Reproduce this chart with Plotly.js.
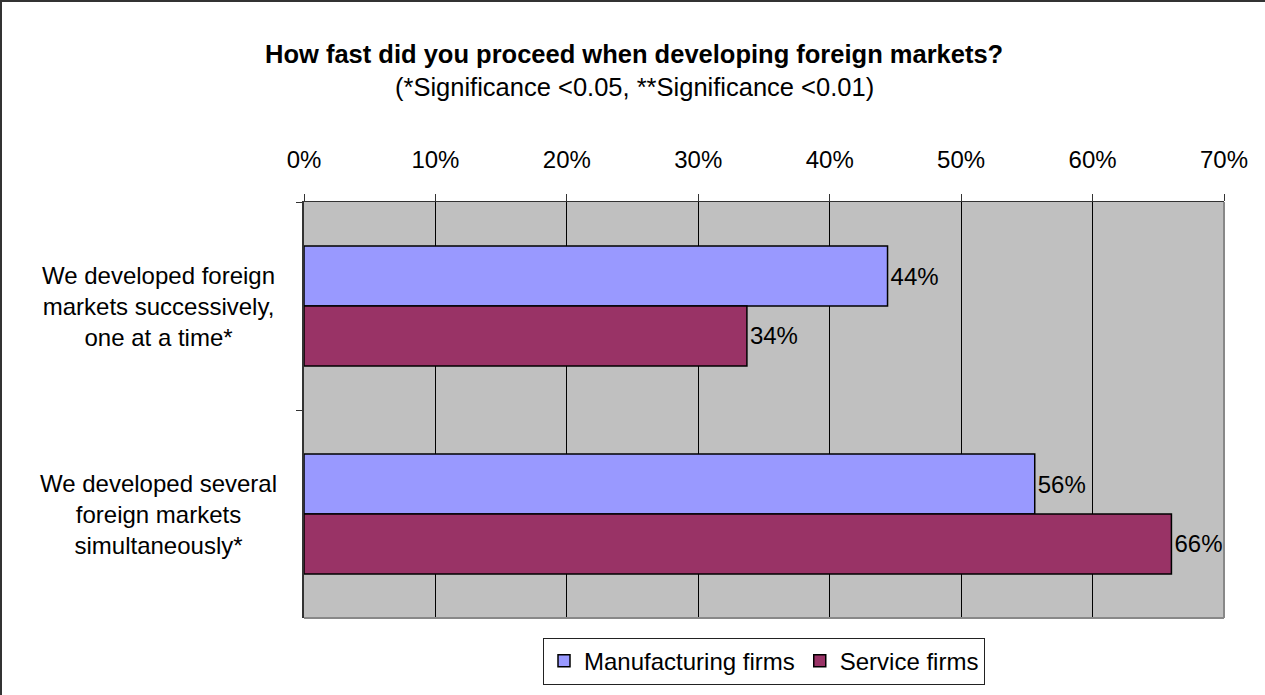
<!DOCTYPE html>
<html>
<head>
<meta charset="utf-8">
<script src="https://cdn.plot.ly/plotly-3.0.1.min.js"></script>
<style>
html,body{margin:0;padding:0;background:#fff;}
#chart{width:1265px;height:695px;box-sizing:border-box;border-top:2px solid #333;border-left:2px solid #333;}
</style>
</head>
<body>
<div id="chart"></div>
<script>
const categories = ["We developed foreign<br>markets successively,<br>one at a time*", "We developed several<br>foreign markets<br>simultaneously*"];
const seriesNames = ["Manufacturing firms", "Service firms"];
const manufacturing = [0.444, 0.556];
const service = [0.337, 0.66];
const xTickVals = [0, 0.1, 0.2, 0.3, 0.4, 0.5, 0.6, 0.7];
const titleLine1 = "How fast did you proceed when developing foreign markets?";
const titleLine2 = "(*Significance <0.05, **Significance <0.01)";

const FAM = "Liberation Sans, Arial, sans-serif";
const font = {family: FAM, size: 24, color: "#000"};

const mk = (name, vals, color) => ({
  type: "bar", orientation: "h", name: name, x: vals, y: categories,
  marker: {color: color, line: {color: "#000", width: 1.5}},
  texttemplate: "%{x:.0%}", textposition: "outside", cliponaxis: false,
  textfont: font, hoverinfo: "skip"
});

const data = [mk(seriesNames[0], manufacturing, "#9999FF"), mk(seriesNames[1], service, "#993366")];

const annotations = categories.map(c => ({
  xref: "paper", yref: "y", x: -0.158, y: c, text: c, showarrow: false,
  xanchor: "center", yanchor: "middle", align: "center", font: font
}));
annotations.push({xref: "paper", yref: "paper", x: 0.3587, y: 1.356, text: "<b>" + titleLine1 + "</b>",
  showarrow: false, xanchor: "center", yanchor: "middle", font: {family: FAM, size: 25.5, color: "#000"}});
annotations.push({xref: "paper", yref: "paper", x: 0.3587, y: 1.276, text: titleLine2,
  showarrow: false, xanchor: "center", yanchor: "middle", font: {family: FAM, size: 25.5, color: "#000"}});

const layout = {
  width: 1265, height: 695,
  margin: {l: 302, r: 43, t: 200, b: 68},
  paper_bgcolor: "rgba(0,0,0,0)", plot_bgcolor: "#C0C0C0",
  font: font,
  barmode: "group", bargap: 0.424, bargroupgap: 0,
  xaxis: {side: "top", range: [0, 0.7], tickvals: xTickVals, tickformat: ".0%",
    showgrid: true, gridcolor: "#000", gridwidth: 1, zeroline: false,
    ticks: "outside", ticklen: 7, tickcolor: "#333", showline: true, linecolor: "#333", linewidth: 1.5,
    mirror: false, tickfont: font, ticklabelstandoff: 16, fixedrange: true},
  yaxis: {autorange: "reversed", type: "category", tickson: "boundaries", ticks: "outside", ticklen: 6,
    tickcolor: "#333", showticklabels: false, showline: true, linecolor: "#333", linewidth: 2,
    showgrid: false, zeroline: false, fixedrange: true},
  shapes: [
    {type: "line", xref: "paper", yref: "paper", x0: 1, x1: 1, y0: 0, y1: 1, line: {color: "#888", width: 2}},
    {type: "line", xref: "paper", yref: "paper", x0: 0, x1: 1, y0: 0, y1: 0, line: {color: "#888", width: 2}}
  ],
  legend: {orientation: "h", x: 0.5, xanchor: "center", y: -0.047, yanchor: "top",
    bordercolor: "#222", borderwidth: 1, bgcolor: "#fff", font: font,
    itemwidth: 30, tracegroupgap: 0},
  annotations: annotations,
  showlegend: true
};

Plotly.newPlot("chart", data, layout, {displayModeBar: false, staticPlot: true});
</script>
</body>
</html>
